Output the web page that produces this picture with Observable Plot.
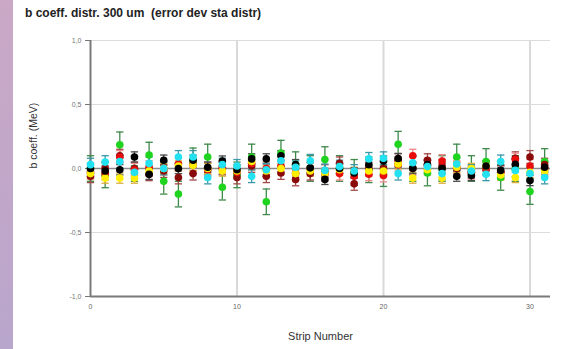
<!DOCTYPE html>
<html>
<head>
<meta charset="utf-8">
<script src="https://cdn.jsdelivr.net/npm/d3@7"></script>
<script src="https://cdn.jsdelivr.net/npm/@observablehq/plot@0.6"></script>
<style>
  body { margin: 0; background: #fff; }
  #wrap { position: relative; width: 564px; height: 349px; background: #fff; overflow: hidden;
          font-family: "Liberation Sans", Arial, Helvetica, sans-serif; }
  #band { position: absolute; left: 0; top: 0; width: 13px; height: 349px;
          background: linear-gradient(#caa8c6, #b9a6cc); }
  #title { position: absolute; left: 25px; top: 6px; font-size: 12px; font-weight: bold; color: #222;
           white-space: pre; }
  #chart { position: absolute; left: 0; top: 25px; }
</style>
</head>
<body>
<div id="wrap">
  <div id="band"></div>
  <div id="title">b coeff. distr. 300 um  (error dev sta distr)</div>
  <div id="chart"></div>
</div>
<script>
// strip index on the x axis
const strips = [0,1,2,3,4,5,6,7,8,9,10,11,12,13,14,15,16,17,18,19,20,21,22,23,24,25,26,27,28,29,30,31];

// b coefficient per strip (MeV), one array per measurement set
const greenVals   = [0.0,-0.05,0.185,0.0,0.105,-0.1,-0.2,0.06,0.09,-0.146,-0.05,0.09,-0.26,0.12,0.03,0.0,0.07,0.0,-0.03,-0.01,-0.04,0.19,0.0,-0.035,0.0,0.09,0.0,0.055,-0.07,0.0,-0.18,0.055];
const darkredVals = [-0.06,0.0,0.1,0.0,-0.045,-0.02,-0.07,-0.04,0.0,0.0,-0.07,0.02,-0.06,-0.035,-0.085,-0.04,-0.02,0.04,-0.12,0.0,0.0,0.065,0.0,0.065,0.02,0.0,-0.03,0.0,-0.03,0.08,0.09,0.03];
const redVals     = [-0.03,-0.04,0.09,-0.01,0.01,0.0,0.035,0.03,-0.01,0.01,-0.03,0.04,0.0,0.02,-0.04,0.0,-0.045,-0.04,-0.06,-0.045,-0.055,0.03,0.1,0.03,0.058,0.01,-0.03,0.0,-0.03,0.07,0.02,0.0];
const yellowVals  = [-0.04,-0.075,-0.075,-0.075,-0.02,0.0,0.02,0.025,0.0,-0.02,-0.02,0.055,-0.02,0.0,-0.04,-0.02,-0.04,-0.01,-0.03,-0.02,-0.02,0.035,-0.075,-0.01,-0.075,0.01,0.0,0.02,-0.05,-0.07,-0.03,-0.02];
const blackVals   = [0.0,-0.02,-0.01,0.09,-0.045,0.065,0.0,0.065,0.01,0.058,-0.01,0.075,0.075,0.1,0.03,0.005,-0.085,0.0,-0.035,0.03,0.058,0.078,0.003,0.03,0.0,-0.06,-0.055,0.02,-0.015,0.032,-0.094,0.01];
const cyanVals    = [0.03,0.05,0.055,-0.03,0.04,0.0,0.09,0.09,-0.07,0.03,0.02,-0.06,-0.01,0.06,0.01,0.06,-0.015,0.015,-0.02,0.075,0.08,-0.04,0.045,0.015,-0.04,0.035,-0.02,-0.045,0.055,-0.015,-0.04,-0.07];

// standard-deviation error per set
const greenErr = 0.1, darkredErr = 0.05, redErr = 0.05, yellowErr = 0.04, blackErr = 0.04, cyanErr = 0.05;

const yTicks = [-1, -0.5, 0, 0.5, 1];
const xTicks = [0, 10, 20, 30];

const sets = [
  {values: greenVals,   err: greenErr,   fill: "#1fd41f", bar: "#3f8a4a"},
  {values: darkredVals, err: darkredErr, fill: "#8a0a0a", bar: "#a34848"},
  {values: redVals,     err: redErr,     fill: "#e80c0c", bar: "#f08a8a"},
  {values: yellowVals,  err: yellowErr,  fill: "#ffee00", bar: "#dcae3a"},
  {values: blackVals,   err: blackErr,   fill: "#000000", bar: "#4a4a4a"},
  {values: cyanVals,    err: cyanErr,    fill: "#22e2f2", bar: "#3a98a8"}
];

const rows = sets.map(s => strips.map((x, i) => ({
  x, y: s.values[i], lo: s.values[i] - s.err, hi: s.values[i] + s.err,
  xa: x - 0.25, xb: x + 0.25
})));

const barMarks = sets.flatMap((s, k) => [
  Plot.ruleX(rows[k], {x: "x", y1: "lo", y2: "hi", stroke: s.bar, strokeWidth: 1.3}),
  Plot.link(rows[k], {x1: "xa", x2: "xb", y1: "hi", y2: "hi", stroke: s.bar, strokeWidth: 1.3}),
  Plot.link(rows[k], {x1: "xa", x2: "xb", y1: "lo", y2: "lo", stroke: s.bar, strokeWidth: 1.3})
]);
const dotMarks = sets.map((s, k) =>
  Plot.dot(rows[k], {x: "x", y: "y", r: 3.8, fill: s.fill, stroke: "none"})
);

const chart = Plot.plot({
  width: 564,
  height: 324,
  marginLeft: 90,
  marginRight: 14,
  marginTop: 15,
  marginBottom: 53,
  style: {fontFamily: "Liberation Sans, Arial, sans-serif", background: "transparent"},
  x: {domain: [0, 31.4]},
  y: {domain: [-1, 1]},
  marks: [
    Plot.ruleX(xTicks.slice(1), {stroke: "#d9d9d9", strokeWidth: 2}),
    Plot.ruleY([1, 0.5, -0.5], {stroke: "#dcdcdc", strokeWidth: 1.2}),
    Plot.ruleY([0], {stroke: "#8a8a8a", strokeWidth: 1.6}),
    Plot.ruleX([0], {stroke: "#7a7a7a", strokeWidth: 2}),
    Plot.ruleY([-1], {stroke: "#7a7a7a", strokeWidth: 2}),
    Plot.axisY({ticks: yTicks, tickFormat: d => d.toFixed(1).replace(".", ","), tickSize: 5, tickPadding: 4,
                fontSize: 7, color: "#777", label: null}),
    Plot.axisX({ticks: xTicks, tickFormat: d => String(d), tickSize: 0, tickPadding: 8,
                fontSize: 7, color: "#666", label: null}),
    ...barMarks,
    ...dotMarks,
    Plot.text(["b coeff. (MeV)"], {frameAnchor: "left", rotate: -90, dx: -57, fontSize: 10.5, fill: "#333"}),
    Plot.text(["Strip Number"], {frameAnchor: "bottom", dy: 43, fontSize: 11, fill: "#333"})
  ]
});
document.getElementById("chart").appendChild(chart);
</script>
</body>
</html>
